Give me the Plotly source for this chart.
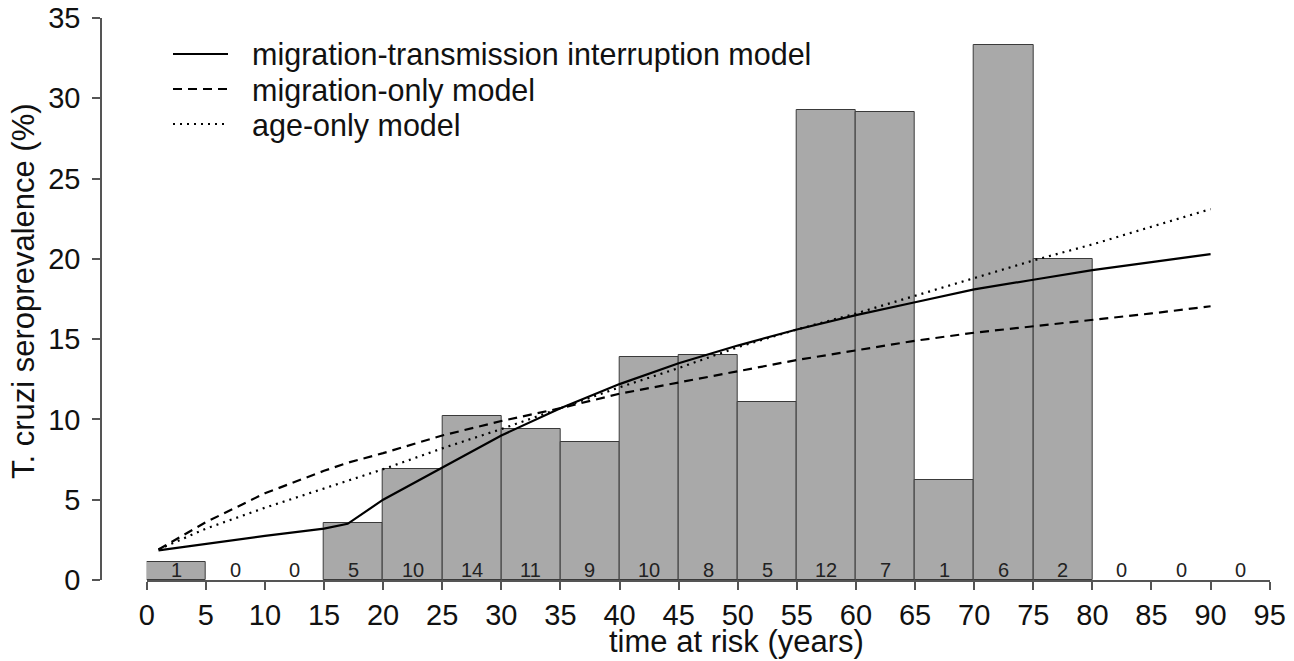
import plotly.graph_objects as go

# ---- data ----
bin_left = [0, 5, 10, 15, 20, 25, 30, 35, 40, 45, 50, 55, 60, 65, 70, 75, 80, 85, 90]
prevalence = [1.1, None, None, 3.55, 6.94, 10.2, 9.4, 8.57, 13.9, 14.0, 11.1, 29.27, 29.17, 6.25, 33.3, 20.0, None, None, None]
counts = [1, 0, 0, 5, 10, 14, 11, 9, 10, 8, 5, 12, 7, 1, 6, 2, 0, 0, 0]

model_x = [1, 5, 10, 15, 17, 20, 25, 30, 35, 40, 45, 50, 55, 60, 65, 70, 75, 80, 85, 90]
mig_trans = [1.85, 2.25, 2.75, 3.2, 3.5, 5.0, 7.0, 9.0, 10.7, 12.2, 13.5, 14.6, 15.6, 16.5, 17.3, 18.1, 18.7, 19.3, 19.8, 20.3]
mig_only = [1.9, 3.6, 5.4, 6.8, 7.3, 7.9, 9.0, 9.9, 10.7, 11.6, 12.3, 13.0, 13.7, 14.3, 14.9, 15.4, 15.8, 16.2, 16.6, 17.05]
age_only = [1.9, 3.2, 4.5, 5.7, 6.2, 6.9, 8.2, 9.4, 10.7, 12.0, 13.2, 14.5, 15.6, 16.6, 17.7, 18.8, 19.9, 20.9, 22.0, 23.1]

legend_names = ["migration-transmission interruption model", "migration-only model", "age-only model"]
x_ticks = list(range(0, 100, 5))
y_ticks = [0, 5, 10, 15, 20, 25, 30, 35]

# ---- layout geometry (pixels); page body has an 8px margin ----
OFF = 8
W, H = 1294 - OFF, 661 - OFF
ML, MR = 101 - OFF, 0
MT = 18 - OFF
MB = H - (580 - OFF)
PW, PH = W - ML - MR, H - MT - MB
X0PX, X95PX = 146.7, 1269.7


def px_x(p):
    # p: pixel in the browser window
    return (p - OFF - ML) / PW


def px_y(p):
    return (H - MB - (p - OFF)) / PH


FONT = "Liberation Sans, Arial, sans-serif"
fig = go.Figure()

centers = [b + 2.5 for b in bin_left]
fig.add_trace(go.Bar(
    x=centers, y=prevalence, width=[5] * len(centers),
    marker=dict(color="#a9a9a9", line=dict(color="#3a3a3a", width=1)),
    showlegend=False, cliponaxis=False, hoverinfo="skip",
))

styles = [("solid", 2.2), ("9px,6px", 2.2), ("2px,5px", 2.2)]
for name, ys, (dash, w) in zip(legend_names, [mig_trans, mig_only, age_only], styles):
    fig.add_trace(go.Scatter(
        x=model_x, y=ys, mode="lines", name=name,
        line=dict(color="#000000", width=w, dash=dash),
        showlegend=False, cliponaxis=False,
    ))

# count labels in each bin
for c, n in zip(centers, counts):
    fig.add_annotation(x=c, y=0, xref="x", yref="y", text=str(n), showarrow=False,
                       yanchor="bottom", yshift=-3,
                       font=dict(family=FONT, size=20, color="#222222"))

# custom legend
leg_rows = [54, 89, 124]
for name, (dash, w), py in zip(legend_names, styles, leg_rows):
    fig.add_shape(type="line", xref="paper", yref="paper",
                  x0=px_x(173), x1=px_x(228), y0=px_y(py), y1=px_y(py),
                  line=dict(color="#000000", width=w, dash=dash))
    fig.add_annotation(x=px_x(250), y=px_y(py + 1), xref="paper", yref="paper",
                       text=name, showarrow=False, xanchor="left", yanchor="middle",
                       font=dict(family=FONT, size=30.5, color="#111111"))

# axis titles
fig.add_annotation(x=px_x(23), y=px_y(291), xref="paper", yref="paper",
                   text="T. cruzi seroprevalence (%)", textangle=-90, showarrow=False,
                   xanchor="center", yanchor="middle",
                   font=dict(family=FONT, size=31, color="#111111"))
fig.add_annotation(x=px_x(736), y=px_y(641), xref="paper", yref="paper",
                   text="time at risk (years)", showarrow=False,
                   xanchor="center", yanchor="middle",
                   font=dict(family=FONT, size=31, color="#111111"))

fig.update_layout(
    width=W, height=H,
    margin=dict(l=ML, r=MR, t=MT, b=MB, pad=0),
    paper_bgcolor="white", plot_bgcolor="white",
    showlegend=False, bargap=0,
    xaxis=dict(range=[0, 95], domain=[px_x(X0PX), px_x(X95PX)],
               tickvals=x_ticks, ticktext=[str(v) for v in x_ticks],
               ticks="outside", ticklen=8, tickwidth=1.5, tickcolor="#555555",
               showline=True, linecolor="#555555", linewidth=1.5,
               showgrid=False, zeroline=False, ticklabeloverflow="allow",
               automargin=False,
               tickfont=dict(family=FONT, size=29, color="#111111")),
    yaxis=dict(range=[0, 35], anchor="free", position=0,
               tickvals=y_ticks, ticks="outside", ticklen=8, tickwidth=1.5,
               tickcolor="#555555", showline=True, linecolor="#555555", linewidth=1.5,
               showgrid=False, zeroline=False, ticklabeloverflow="allow",
               ticklabelstandoff=6, automargin=False,
               tickfont=dict(family=FONT, size=29, color="#111111")),
)

fig.write_html("out.html")
